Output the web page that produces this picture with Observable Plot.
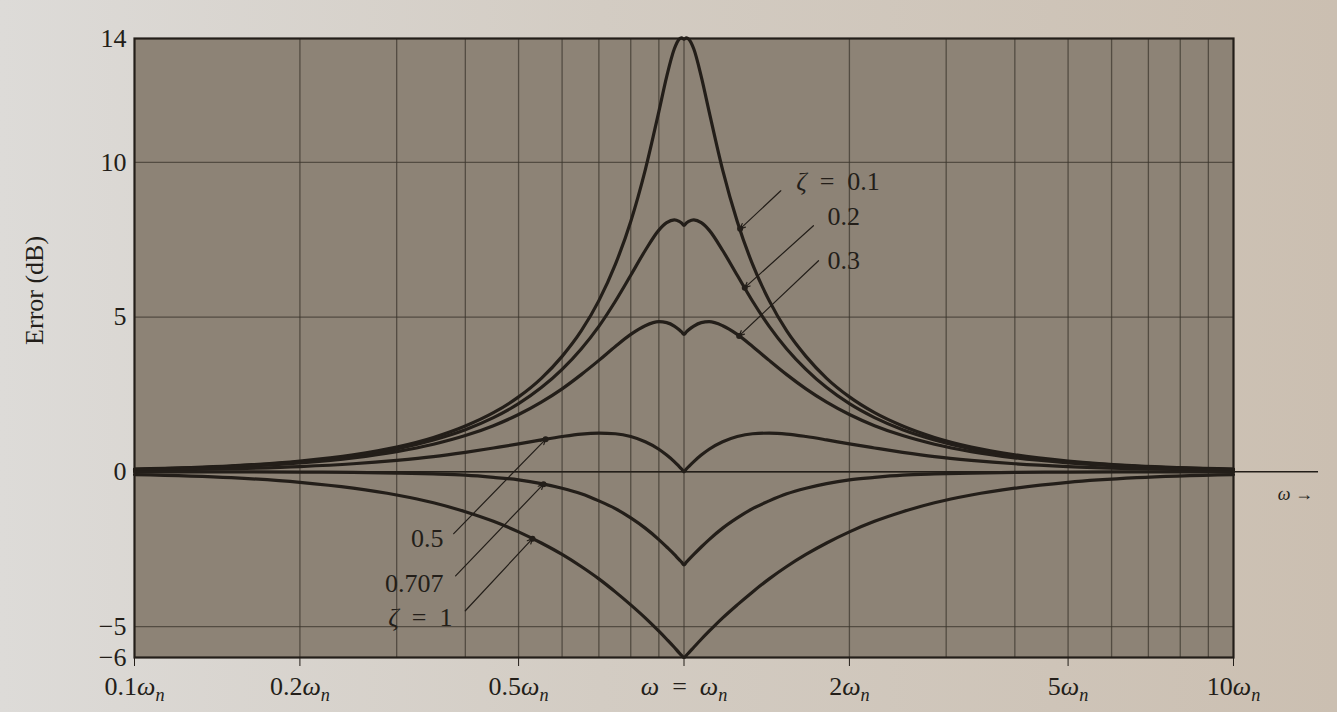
<!DOCTYPE html>
<html>
<head>
<meta charset="utf-8">
<script src="https://cdn.jsdelivr.net/npm/d3@7"></script>
<script src="https://cdn.jsdelivr.net/npm/@observablehq/plot@0.6"></script>
<style>
  html, body { margin: 0; padding: 0; }
  body { width: 1337px; height: 712px; overflow: hidden;
         background: linear-gradient(90deg, #dddbd8 0%, #d3ccc3 45%, #cbbfb1 100%); }
</style>
</head>
<body>
<div id="chart"></div>
<script>
// Frequency samples (multiples of ωn)
const freq = [0.1, 0.15, 0.2, 0.25, 0.3, 0.35, 0.4, 0.45, 0.5, 0.55, 0.6, 0.65, 0.7, 0.75, 0.8, 0.85, 0.9, 0.93, 0.96, 0.98, 0.99, 1,
              1.01, 1.02, 1.042, 1.075, 1.111, 1.176, 1.25, 1.333, 1.429, 1.538, 1.667, 1.818, 2, 2.222, 2.5, 2.857, 3.333, 4, 5, 6.667, 10];

// Error (dB) for each damping ratio
const zeta01 = [0.09, 0.19, 0.35, 0.55, 0.80, 1.11, 1.48, 1.91, 2.42, 3.02, 3.73, 4.55, 5.53, 6.70, 8.09, 9.75, 11.64, 12.77, 13.66, 13.98, 14.02, 13.98,
                14.02, 13.98, 13.66, 12.77, 11.64, 9.75, 8.09, 6.70, 5.53, 4.55, 3.73, 3.02, 2.42, 1.91, 1.48, 1.11, 0.80, 0.55, 0.35, 0.19, 0.09];
const zeta02 = [0.08, 0.18, 0.32, 0.51, 0.74, 1.03, 1.36, 1.75, 2.20, 2.72, 3.31, 3.97, 4.70, 5.51, 6.35, 7.15, 7.81, 8.05, 8.14, 8.09, 8.04, 7.96,
                8.04, 8.09, 8.14, 8.05, 7.81, 7.15, 6.35, 5.51, 4.70, 3.97, 3.31, 2.72, 2.20, 1.75, 1.36, 1.03, 0.74, 0.51, 0.32, 0.18, 0.08];
const zeta03 = [0.07, 0.16, 0.29, 0.45, 0.65, 0.89, 1.17, 1.49, 1.85, 2.25, 2.68, 3.14, 3.60, 4.05, 4.44, 4.72, 4.85, 4.82, 4.71, 4.59, 4.52, 4.44,
                4.52, 4.59, 4.71, 4.82, 4.85, 4.72, 4.44, 4.05, 3.60, 3.14, 2.68, 2.25, 1.85, 1.49, 1.17, 0.89, 0.65, 0.45, 0.29, 0.16, 0.07];
const zeta05 = [0.04, 0.10, 0.17, 0.26, 0.37, 0.49, 0.63, 0.77, 0.90, 1.03, 1.14, 1.22, 1.25, 1.23, 1.14, 0.97, 0.73, 0.54, 0.33, 0.17, 0.09, 0.00,
                0.09, 0.17, 0.33, 0.54, 0.73, 0.97, 1.14, 1.23, 1.25, 1.22, 1.14, 1.03, 0.90, 0.77, 0.63, 0.49, 0.37, 0.26, 0.17, 0.10, 0.04];
const zeta0707 = [0.00, 0.00, -0.01, -0.02, -0.04, -0.07, -0.11, -0.18, -0.26, -0.38, -0.53, -0.71, -0.94, -1.19, -1.49, -1.82, -2.19, -2.43, -2.67, -2.84, -2.92, -3.01,
                  -2.92, -2.84, -2.67, -2.43, -2.19, -1.82, -1.49, -1.19, -0.94, -0.71, -0.53, -0.38, -0.26, -0.18, -0.11, -0.07, -0.04, -0.02, -0.01, 0.00, 0.00];
const zeta1 = [-0.09, -0.19, -0.34, -0.53, -0.75, -1.00, -1.29, -1.60, -1.94, -2.30, -2.67, -3.06, -3.46, -3.88, -4.30, -4.72, -5.15, -5.41, -5.67, -5.85, -5.93, -6.00,
               -5.93, -5.85, -5.67, -5.41, -5.15, -4.72, -4.30, -3.88, -3.46, -3.06, -2.67, -2.30, -1.94, -1.60, -1.29, -1.00, -0.75, -0.53, -0.34, -0.19, -0.09];

// Axes
const xTickValues = [0.1, 0.2, 0.5, 1, 2, 5, 10];
const xTickLabels = ["0.1ω_n", "0.2ω_n", "0.5ω_n", "ω\u2002=\u2002ω_n", "2ω_n", "5ω_n", "10ω_n"];
const xGridValues = [0.2, 0.3, 0.4, 0.5, 0.6, 0.7, 0.8, 0.9, 1, 2, 3, 4, 5, 6, 7, 8, 9];
const yTickValues = [-6, -5, 0, 5, 10, 14];
const yGridValues = [-5, 0, 5, 10];

// Curve labels with leader arrows (data units)
const labelText = ["ζ\u2002=\u20020.1", "0.2", "0.3", "0.5", "0.707", "ζ\u2002=\u20021"];
const labelX = [1.60, 1.824, 1.824, 0.3649, 0.3649, 0.379];
const labelY = [9.37, 8.24, 6.82, -2.16, -3.62, -4.72];
const labelAnchor = ["start", "start", "start", "end", "end", "end"];
const arrowFromX = [1.50, 1.72, 1.757, 0.381, 0.384, 0.400];
const arrowFromY = [9.08, 7.95, 6.82, -2.00, -3.36, -4.49];
const arrowToX = [1.265, 1.29, 1.26, 0.56, 0.555, 0.53];
const arrowToY = [7.85, 5.95, 4.39, 1.05, -0.40, -2.16];

const series = [
  {zeta: "0.1", values: zeta01},
  {zeta: "0.2", values: zeta02},
  {zeta: "0.3", values: zeta03},
  {zeta: "0.5", values: zeta05},
  {zeta: "0.707", values: zeta0707},
  {zeta: "1", values: zeta1}
];
const data = series.flatMap(s => freq.map((f, i) => ({f, e: s.values[i], z: s.zeta})));
const ann = labelText.map((t, i) => ({
  t, lx: labelX[i], ly: labelY[i], anchor: labelAnchor[i],
  x1: arrowFromX[i], y1: arrowFromY[i], x2: arrowToX[i], y2: arrowToY[i]
}));

const ink = "#231e19";
const gridInk = "#3b342c";

const chart = Plot.plot({
  width: 1337,
  height: 712,
  marginLeft: 134,
  marginRight: 104,
  marginTop: 38,
  marginBottom: 55,
  style: {background: "transparent", fontFamily: "'Liberation Serif', 'DejaVu Serif', serif", fontSize: "26px", color: ink},
  x: {type: "log", domain: [0.1, 10]},
  y: {domain: [-6, 14]},
  marks: [
    Plot.frame({fill: "#8d8376", stroke: "none"}),
    Plot.gridX(xGridValues, {stroke: gridInk, strokeOpacity: 0.7, strokeWidth: 1.3}),
    Plot.gridY(yGridValues, {stroke: gridInk, strokeOpacity: 0.7, strokeWidth: 1.3}),
    Plot.ruleY([{y: 0, a: 0.1, b: 14.28}], {y: "y", x1: "a", x2: "b", stroke: ink, strokeWidth: 1.6}),
    Plot.line(data, {x: "f", y: "e", z: "z", stroke: ink, strokeWidth: 3.2, strokeLinejoin: "round", curve: "monotone-x"}),
    Plot.arrow(ann, {x1: "x1", y1: "y1", x2: "x2", y2: "y2", stroke: ink, strokeWidth: 1.2, headLength: 7, headAngle: 50}),
    Plot.dot(ann, {x: "x2", y: "y2", r: 3, fill: ink, stroke: "none"}),
    Plot.text(ann.filter(d => d.anchor === "start"), {x: "lx", y: "ly", text: "t", textAnchor: "start", fill: ink, fontSize: 26}),
    Plot.text(ann.filter(d => d.anchor === "end"), {x: "lx", y: "ly", text: "t", textAnchor: "end", fill: ink, fontSize: 26}),
    Plot.text([{x: 12.96, y: -0.72, t: "ω →"}], {x: "x", y: "y", text: "t", fill: ink, fontSize: 18}),
    Plot.text([{y: 4.10, t: "Error (dB)"}], {y: "y", text: "t", frameAnchor: "left", dx: -100, rotate: -90, fill: ink, fontSize: 26}),
    Plot.frame({stroke: ink, strokeWidth: 2.2}),
    Plot.axisX(xTickValues, {tickFormat: d => xTickLabels[xTickValues.indexOf(d)], tickSize: 9, tickPadding: 10, label: null, stroke: ink, fill: ink, fontSize: 26}),
    Plot.axisY(yTickValues, {tickSize: 0, tickPadding: 8, label: null, fill: ink, fontSize: 26})
  ]
});

// Italic Greek letters and subscript n in labels
const NS = "http://www.w3.org/2000/svg";
chart.querySelectorAll("text").forEach(el => {
  const s = el.textContent;
  if (!/[ωζ]/.test(s)) return;
  el.textContent = "";
  s.split(/(ω|ζ|_n)/).filter(p => p).forEach(p => {
    const t = document.createElementNS(NS, "tspan");
    if (p === "ω" || p === "ζ") { t.setAttribute("font-style", "italic"); t.textContent = p; }
    else if (p === "_n") { t.setAttribute("font-style", "italic"); t.setAttribute("font-size", "0.7em"); t.setAttribute("dy", "0.35em"); t.textContent = "n"; }
    else t.textContent = p;
    el.appendChild(t);
  });
});

document.getElementById("chart").appendChild(chart);
</script>
</body>
</html>
